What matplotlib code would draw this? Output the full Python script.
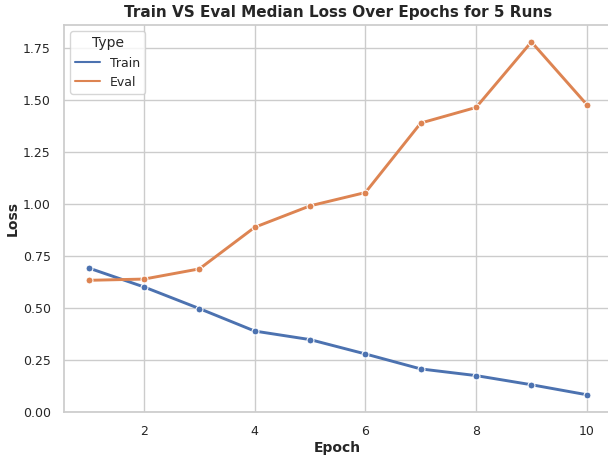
import matplotlib
matplotlib.use("Agg")
import matplotlib.pyplot as plt
from matplotlib.lines import Line2D
import seaborn as sns
import pandas as pd

sns.set_theme(style="whitegrid")

# median loss per epoch over 5 runs
epochs = [1, 2, 3, 4, 5, 6, 7, 8, 9, 10]
train_loss = [0.692, 0.601, 0.497, 0.389, 0.348, 0.279, 0.207, 0.175, 0.131, 0.083]
eval_loss = [0.633, 0.639, 0.688, 0.888, 0.991, 1.055, 1.389, 1.464, 1.779, 1.478]
types = ["Train", "Eval"]

df = pd.DataFrame({
    "Epoch": epochs + epochs,
    "Loss": train_loss + eval_loss,
    "Type": [types[0]] * len(epochs) + [types[1]] * len(epochs),
})

fig = plt.figure(figsize=(6.08, 4.59), dpi=100)
# axes run to the right edge of the picture, as in the reference
ax = fig.add_axes([0.105, 0.1024, 0.901, 0.843])
sns.lineplot(data=df, x="Epoch", y="Loss", hue="Type", marker="o",
             linewidth=2.1, markersize=5, ax=ax)
ax.spines["right"].set_visible(False)

ax.set_title("Train VS Eval Median Loss Over Epochs for 5 Runs",
             fontweight="bold", fontsize=11)
ax.set_xlabel("Epoch", fontweight="bold", fontsize=10, labelpad=2)
ax.set_ylabel("Loss", fontweight="bold", fontsize=10, labelpad=2)
ax.set_ylim(0, 1.86)
ax.set_xlim(0.55, 10.45)
ax.set_yticks([0, 0.25, 0.5, 0.75, 1.0, 1.25, 1.5, 1.75])
ax.tick_params(labelsize=9)

# legend shows lines only
pal = sns.color_palette()
handles = [Line2D([], [], color=pal[i], linewidth=1.5) for i in range(len(types))]
ax.legend(handles, types, title="Type", fontsize=9, title_fontsize=10,
          loc="upper left")

fig.savefig("out.png")
